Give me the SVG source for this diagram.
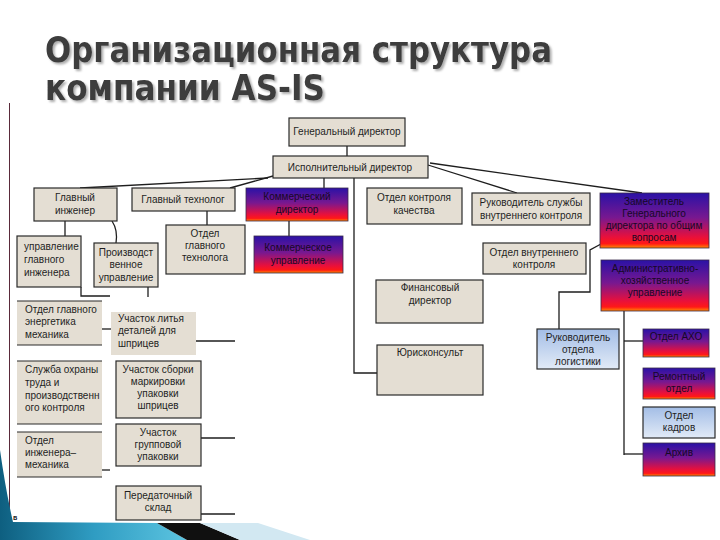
<svg xmlns="http://www.w3.org/2000/svg" width="720" height="540" viewBox="0 0 720 540">
<defs>
<linearGradient id="gRed" x1="0" y1="0" x2="0" y2="1">
<stop offset="0" stop-color="#2a12a6"/>
<stop offset="0.45" stop-color="#781890"/>
<stop offset="0.8" stop-color="#e8103c"/>
<stop offset="0.92" stop-color="#ff1818"/>
<stop offset="1" stop-color="#ff8a00"/>
</linearGradient>
<linearGradient id="gBlue" x1="0" y1="0" x2="0" y2="1">
<stop offset="0" stop-color="#a3bde6"/>
<stop offset="1" stop-color="#e2ebf7"/>
</linearGradient>
<linearGradient id="gTeal" x1="0" y1="0" x2="1" y2="0">
<stop offset="0" stop-color="#0e5f80"/>
<stop offset="0.5" stop-color="#2f9cc2"/>
<stop offset="1" stop-color="#5cc4e0"/>
</linearGradient>
<filter id="shadow" x="-5%" y="-20%" width="110%" height="150%">
<feDropShadow dx="2" dy="2" stdDeviation="1" flood-color="#9a9a9a" flood-opacity="0.8"/>
</filter>
<style>
.b{fill:#e4ded3;stroke:#2a2a2a;stroke-width:1.2}
.bn{fill:#e4ded3;stroke:none}
.r{fill:url(#gRed);stroke:#3a2a4a;stroke-width:0.8}
.u{fill:url(#gBlue);stroke:#2a2a2a;stroke-width:1.2}
.hl{stroke:#2a2a2a;stroke-width:1.2;fill:none}
text{font-family:"Liberation Sans",Arial,sans-serif;font-size:10px;fill:#1e1e1e}
.c{text-anchor:middle}
.ttl{font-family:"DejaVu Sans Condensed","DejaVu Sans",sans-serif;font-weight:bold;font-size:36px;fill:#3c3c3c}
#connectors path,#connectors line{stroke:#1e1e1e;stroke-width:1.3;fill:none}
</style>
</defs>
<rect x="0" y="0" width="720" height="540" fill="#ffffff"/>

<g id="decor">
<line x1="9.5" y1="103" x2="9.5" y2="522" stroke="#5a2a3a" stroke-width="1"/>
<path d="M0,450 Q6,492 13,522 L157,523 L187,540 L0,540 Z" fill="url(#gTeal)"/>
<path d="M157,523 L200,523 L240,540 L187,540 Z" fill="#101010"/>
<path d="M200,523 L258,523 L310,540 L240,540 Z" fill="#d2e8f2"/>
<text x="13" y="520" style="font-size:7px;font-weight:bold">в</text>
</g>

<g id="title" filter="url(#shadow)">
<text class="ttl" x="45" y="62" textLength="507" lengthAdjust="spacingAndGlyphs">Организационная структура</text>
<text class="ttl" x="45" y="100" textLength="280" lengthAdjust="spacingAndGlyphs">компании AS-IS</text>
</g>

<g id="connectors">
<line x1="347" y1="146" x2="347" y2="156"/>
<line x1="273" y1="176" x2="230" y2="188"/>
<line x1="268" y1="178" x2="80" y2="188"/>
<line x1="428" y1="165" x2="517" y2="193"/>
<line x1="430" y1="163" x2="642" y2="193"/>
<line x1="324" y1="178" x2="324" y2="188"/>
<path d="M354,178 L354,373 L377,373"/>
<line x1="65" y1="221" x2="65" y2="236"/>
<path d="M112,221 Q118,230 116,243"/>
<line x1="207" y1="211" x2="207" y2="225"/>
<line x1="289" y1="221" x2="289" y2="236"/>
<path d="M81,287 L81,296 L110,296"/>
<line x1="148" y1="287" x2="148" y2="297"/>
<line x1="102" y1="329" x2="111" y2="329"/>
<line x1="196" y1="341" x2="235" y2="341"/>
<line x1="102" y1="470" x2="110" y2="470"/>
<line x1="201" y1="438" x2="235" y2="438"/>
<line x1="201" y1="514" x2="235" y2="514"/>
<path d="M601,244 L590,250 L590,292 L559,292 L559,329"/>
<path d="M624,311 L624,455"/>
<line x1="624" y1="341" x2="643" y2="341"/>
<line x1="624" y1="454" x2="643" y2="454"/>
</g>

<g id="gen-director"><rect class="b" x="289" y="118" width="116" height="28"/><text class="c" x="347" y="135">Генеральный директор</text></g>
<g id="exec-director"><rect class="b" x="273" y="156" width="155" height="22"/><text class="c" x="350" y="171">Исполнительный директор</text></g>
<g id="chief-engineer"><rect class="b" x="34" y="188" width="83" height="33"/><text class="c" x="75" y="201">Главный</text><text class="c" x="75" y="214">инженер</text></g>
<g id="chief-technologist"><rect class="b" x="132" y="188" width="103" height="23"/><text class="c" x="183" y="203">Главный технолог</text></g>
<g id="commercial-director"><rect class="r" x="246" y="188" width="102" height="33"/><g style="fill:#160826"><text class="c" style="fill:#160826" x="297" y="200">Коммерческий</text><text class="c" style="fill:#160826" x="297" y="213">директор</text></g></g>
<g id="quality-control"><rect class="b" x="367" y="188" width="95" height="36"/><text class="c" x="414" y="201">Отдел контроля</text><text class="c" x="414" y="214">качества</text></g>
<g id="internal-control-head"><rect class="b" x="472" y="193" width="118" height="32"/><text class="c" x="531" y="206">Руководитель службы</text><text class="c" x="531" y="219">внутреннего контроля</text></g>
<g id="deputy-general"><rect class="r" x="600" y="193" width="109" height="55"/><text class="c" style="fill:#160826" x="654" y="205">Заместитель</text><text class="c" style="fill:#160826" x="654" y="217">Генерального</text><text class="c" style="fill:#160826" x="654" y="229">директора по общим</text><text class="c" style="fill:#160826" x="654" y="241">вопросам</text></g>
<g id="chief-engineer-dept"><rect class="b" x="17" y="236" width="64" height="51"/><text x="24" y="250">управление</text><text x="24" y="263">главного</text><text x="24" y="276">инженера</text></g>
<g id="production-dept"><rect class="b" x="94" y="243" width="64" height="44"/><text class="c" x="126" y="256">Производст</text><text class="c" x="126" y="268">венное</text><text class="c" x="126" y="281">управление</text></g>
<g id="technologist-dept"><rect class="b" x="166" y="225" width="79" height="49"/><text class="c" x="205" y="237">Отдел</text><text class="c" x="205" y="249">главного</text><text class="c" x="205" y="261">технолога</text></g>
<g id="commercial-dept"><rect class="r" x="254" y="236" width="89" height="37"/><text class="c" style="fill:#160826" x="298" y="251">Коммерческое</text><text class="c" style="fill:#160826" x="298" y="264">управление</text></g>
<g id="internal-control-dept"><rect class="b" x="483" y="243" width="103" height="31"/><text class="c" x="534" y="256">Отдел внутреннего</text><text class="c" x="534" y="268">контроля</text></g>
<g id="admin-dept"><rect class="r" x="601" y="260" width="108" height="51"/><text class="c" style="fill:#160826" x="655" y="272">Административно-</text><text class="c" style="fill:#160826" x="655" y="284">хозяйственное</text><text class="c" style="fill:#160826" x="655" y="296">управление</text></g>
<g id="finance-director"><rect class="b" x="376" y="280" width="107" height="43"/><text class="c" x="430" y="291">Финансовый</text><text class="c" x="430" y="304">директор</text></g>
<g id="legal"><rect class="b" x="377" y="345" width="106" height="50"/><text class="c" x="430" y="356">Юрисконсульт</text></g>
<g id="logistics-head"><rect class="u" x="537" y="329" width="82" height="40"/><text class="c" x="578" y="341">Руководитель</text><text class="c" x="578" y="353">отдела</text><text class="c" x="578" y="365">логистики</text></g>
<g id="aho-dept"><rect class="r" x="643" y="329" width="66" height="28"/><text class="c" style="fill:#160826" x="676" y="340">Отдел АХО</text></g>
<g id="repair-dept"><rect class="r" x="643" y="368" width="72" height="31"/><text class="c" style="fill:#160826" x="679" y="380">Ремонтный</text><text class="c" style="fill:#160826" x="679" y="392">отдел</text></g>
<g id="hr-dept"><rect class="u" x="643" y="407" width="72" height="31"/><text class="c" x="679" y="419">Отдел</text><text class="c" x="679" y="431">кадров</text></g>
<g id="archive"><rect class="r" x="643" y="443" width="72" height="33"/><text class="c" style="fill:#160826" x="679" y="456">Архив</text></g>
<g id="energy-dept"><rect class="bn" x="17" y="301" width="85" height="44"/><path class="hl" d="M17,301 H102 M17,345 H102"/><text x="25" y="313">Отдел главного</text><text x="25" y="325">энергетика</text><text x="25" y="338">механика</text></g>
<g id="casting-section"><rect class="bn" x="111" y="312" width="85" height="43"/><text x="118" y="322">Участок литья</text><text x="118" y="334">деталей для</text><text x="118" y="347">шприцев</text></g>
<g id="safety-service"><rect class="bn" x="17" y="361" width="85" height="63"/><path class="hl" d="M17,361 H102 M17,424 H102"/><text x="25" y="373">Служба охраны</text><text x="25" y="386">труда и</text><text x="25" y="399">производственн</text><text x="25" y="411">ого контроля</text></g>
<g id="assembly-section"><rect class="b" x="116" y="361" width="85" height="57"/><text class="c" x="158" y="373">Участок сборки</text><text class="c" x="158" y="385">маркировки</text><text class="c" x="158" y="397">упаковки</text><text class="c" x="158" y="409">шприцев</text></g>
<g id="mechanic-dept"><rect class="bn" x="17" y="432" width="85" height="45"/><path class="hl" d="M17,432 H102 M17,477 H102"/><text x="25" y="444">Отдел</text><text x="25" y="456">инженера–</text><text x="25" y="468">механика</text></g>
<g id="group-packing"><rect class="b" x="116" y="424" width="85" height="42"/><text class="c" x="158" y="436">Участок</text><text class="c" x="158" y="448">групповой</text><text class="c" x="158" y="460">упаковки</text></g>
<g id="transfer-warehouse"><rect class="b" x="116" y="486" width="85" height="34"/><text class="c" x="158" y="499">Передаточный</text><text class="c" x="158" y="511">склад</text></g>
</svg>
